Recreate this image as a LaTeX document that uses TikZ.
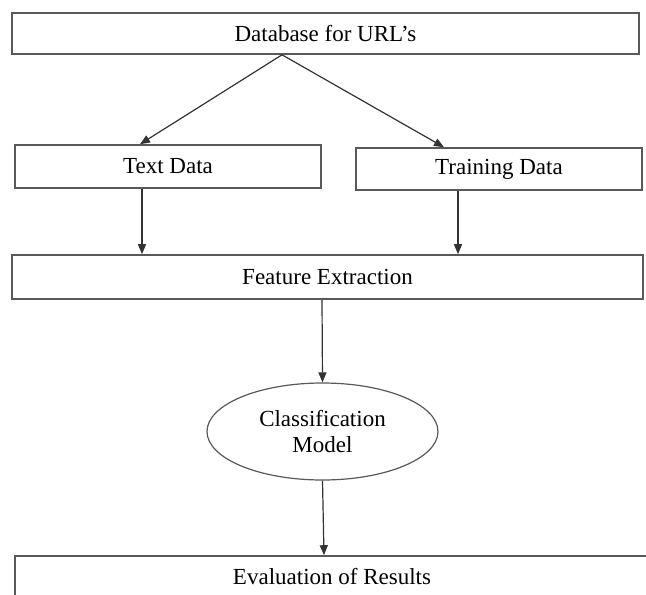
\documentclass[tikz,border=0pt]{standalone}
\usepackage{fontspec}
\setmainfont{Liberation Serif}
\usetikzlibrary{arrows.meta,shapes.geometric}
\begin{document}
\begin{tikzpicture}[x=1pt,y=-1pt,
  box/.style={draw=black!65,line width=1.6pt,rectangle,inner sep=0pt,font=\fontsize{23}{26}\selectfont},
  ell/.style={draw=black!65,line width=1.2pt,ellipse,inner sep=0pt,align=center,font=\fontsize{23}{26}\selectfont},
  arr/.style={draw=black!80,line width=1.2pt,-{Triangle[length=10pt,width=8pt]}}]
\useasboundingbox (0,0) rectangle (646,595);
\clip (0,0) rectangle (646,595);
\fill[white] (0,0) rectangle (646,595);
\node[box,minimum width=627pt,minimum height=41pt] (db) at (325.5,33.5) {Database for URL’s};
\node[box,minimum width=306pt,minimum height=43pt] (td) at (168,166.5) {Text Data};
\node[box,minimum width=286pt,minimum height=42pt] (tr) at (499,169) {Training Data};
\node[box,minimum width=631pt,minimum height=44pt] (fe) at (327.5,277) {Feature Extraction};
\node[ell,minimum width=231pt,minimum height=97pt] (cm) at (322.5,431.5) {Classification\\Model};
\node[box,minimum width=634pt,minimum height=42pt] (ev) at (332,577) {Evaluation of Results};
\coordinate (apex) at (282,0);
\coordinate (ta) at (140,0);
\coordinate (tra) at (444,0);
\coordinate (x1) at (142,0);
\coordinate (x2) at (458,0);
\coordinate (x3) at (322,0);
\coordinate (x4) at (324,0);
\draw[arr] (db.south -| apex) -- (td.north -| ta);
\draw[arr] (db.south -| apex) -- (tr.north -| tra);
\draw[arr] (td.south -| x1) -- (fe.north -| x1);
\draw[arr] (tr.south -| x2) -- (fe.north -| x2);
\draw[arr] (fe.south -| x3) -- (cm.north);
\draw[arr] (cm.south) -- (ev.north -| x4);
\end{tikzpicture}
\end{document}
